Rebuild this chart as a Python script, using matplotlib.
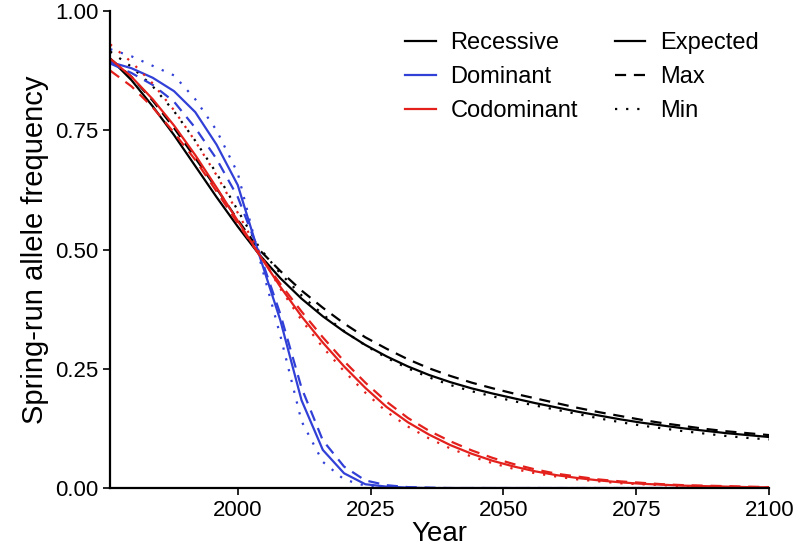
import matplotlib
matplotlib.use("Agg")
import matplotlib.pyplot as plt
from matplotlib.lines import Line2D

plt.rcParams['font.family'] = ['Liberation Sans', 'DejaVu Sans']

# model years (4-year generations)
years = [1976, 1980, 1984, 1988, 1992, 1996, 2000, 2004, 2008, 2012, 2016,
         2020, 2024, 2028, 2032, 2036, 2040, 2044, 2048, 2052, 2056, 2060,
         2064, 2068, 2072, 2076, 2080, 2084, 2088, 2092, 2096, 2100]

# Recessive
rec_exp = [0.900, 0.855, 0.800, 0.740, 0.675, 0.610, 0.548, 0.490, 0.440, 0.397, 0.360,
           0.328, 0.300, 0.276, 0.255, 0.237, 0.222, 0.209, 0.198, 0.188, 0.178, 0.169,
           0.160, 0.152, 0.144, 0.137, 0.131, 0.125, 0.120, 0.115, 0.111, 0.107]
rec_max = [0.900, 0.862, 0.812, 0.755, 0.692, 0.628, 0.562, 0.500, 0.455, 0.414, 0.378,
           0.345, 0.316, 0.292, 0.270, 0.251, 0.235, 0.221, 0.209, 0.198, 0.188, 0.178,
           0.168, 0.159, 0.151, 0.143, 0.136, 0.130, 0.124, 0.119, 0.115, 0.111]
rec_min = [0.915, 0.883, 0.842, 0.790, 0.728, 0.660, 0.582, 0.505, 0.450, 0.404, 0.364,
           0.329, 0.299, 0.273, 0.251, 0.232, 0.216, 0.203, 0.192, 0.182, 0.173, 0.164,
           0.155, 0.146, 0.138, 0.131, 0.125, 0.119, 0.114, 0.109, 0.105, 0.102]

# Dominant
dom_exp = [0.893, 0.880, 0.860, 0.832, 0.788, 0.720, 0.635, 0.490, 0.352, 0.184, 0.080,
           0.031, 0.008, 0.003, 0.001, 0.0, 0.0, 0.0, 0.0, 0.0, 0.0, 0.0,
           0.0, 0.0, 0.0, 0.0, 0.0, 0.0, 0.0, 0.0, 0.0, 0.0]
dom_max = [0.890, 0.870, 0.845, 0.810, 0.755, 0.690, 0.610, 0.495, 0.365, 0.210, 0.100,
           0.045, 0.016, 0.006, 0.002, 0.001, 0.0, 0.0, 0.0, 0.0, 0.0, 0.0,
           0.0, 0.0, 0.0, 0.0, 0.0, 0.0, 0.0, 0.0, 0.0, 0.0]
dom_min = [0.920, 0.905, 0.885, 0.865, 0.815, 0.750, 0.660, 0.485, 0.320, 0.140, 0.055,
           0.018, 0.005, 0.001, 0.0, 0.0, 0.0, 0.0, 0.0, 0.0, 0.0, 0.0,
           0.0, 0.0, 0.0, 0.0, 0.0, 0.0, 0.0, 0.0, 0.0, 0.0]

# Codominant
cod_exp = [0.900, 0.862, 0.815, 0.760, 0.698, 0.630, 0.560, 0.490, 0.422, 0.360, 0.305,
           0.255, 0.210, 0.170, 0.138, 0.112, 0.090, 0.072, 0.057, 0.045, 0.035, 0.027,
           0.021, 0.016, 0.012, 0.009, 0.007, 0.005, 0.004, 0.003, 0.002, 0.0015]
cod_max = [0.875, 0.842, 0.798, 0.745, 0.688, 0.622, 0.555, 0.490, 0.428, 0.370, 0.316,
           0.266, 0.221, 0.181, 0.147, 0.120, 0.098, 0.079, 0.063, 0.050, 0.039, 0.030,
           0.024, 0.018, 0.014, 0.011, 0.008, 0.006, 0.005, 0.004, 0.003, 0.002]
cod_min = [0.930, 0.893, 0.848, 0.792, 0.727, 0.656, 0.577, 0.495, 0.418, 0.352, 0.295,
           0.245, 0.200, 0.160, 0.129, 0.104, 0.083, 0.066, 0.052, 0.040, 0.031, 0.024,
           0.018, 0.014, 0.010, 0.008, 0.006, 0.004, 0.003, 0.002, 0.002, 0.001]

blue = '#3140d6'
red = '#e3201c'
lw = 1.6
dash = (0, (5, 3.5))
dot = (0, (1, 4))

fig = plt.figure(figsize=(7.93, 5.49), dpi=100)
ax = fig.add_axes([0.139, 0.111, 0.831, 0.869])

series = [
    (rec_exp, 'black', '-'), (rec_max, 'black', dash), (rec_min, 'black', dot),
    (dom_exp, blue, '-'), (dom_max, blue, dash), (dom_min, blue, dot),
    (cod_exp, red, '-'), (cod_max, red, dash), (cod_min, red, dot),
]
for vals, col, ls in series:
    ax.plot(years, vals, color=col, linestyle=ls, linewidth=lw)

ax.set_xlim(1976, 2100)
ax.set_ylim(0, 1)
ax.set_xticks([2000, 2025, 2050, 2075, 2100])
ax.set_yticks([0, 0.25, 0.5, 0.75, 1.0])
ax.set_yticklabels(['0.00', '0.25', '0.50', '0.75', '1.00'])
ax.tick_params(labelsize=16, length=5, width=1.2, color='black', labelcolor='black')
for s in ['top', 'right']:
    ax.spines[s].set_visible(False)
for s in ['left', 'bottom']:
    ax.spines[s].set_linewidth(1.6)
ax.set_xlabel('Year', fontsize=20, labelpad=0)
ax.set_ylabel('Spring-run allele frequency', fontsize=21, labelpad=4)

h1 = [Line2D([], [], color=c, lw=lw) for c in ['black', blue, red]]
leg1 = ax.legend(h1, ['Recessive', 'Dominant', 'Codominant'], frameon=False,
                 fontsize=17, handlelength=1.3, handletextpad=0.63, labelspacing=0.5,
                 loc='upper left', bbox_to_anchor=(0.433, 0.975), borderaxespad=0)
ax.add_artist(leg1)
h2 = [Line2D([], [], color='black', lw=lw, linestyle=ls) for ls in ['-', dash, dot]]
ax.legend(h2, ['Expected', 'Max', 'Min'], frameon=False,
          fontsize=17, handlelength=1.3, handletextpad=0.63, labelspacing=0.5,
          loc='upper left', bbox_to_anchor=(0.751, 0.975), borderaxespad=0)

fig.savefig('out.png', dpi=100)
